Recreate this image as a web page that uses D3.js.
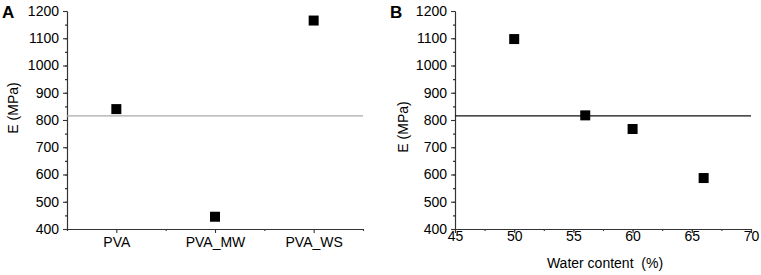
<html>
<head>
<style>
    body { margin: 0; background: #fff; }
    text { font-family: "Liberation Sans", Arial, sans-serif; fill: #000; }
</style>
</head>
<body>
<svg id="chart" width="761" height="275"></svg>
<script src="https://d3js.org/d3.v7.min.js"></script>
<script>
    // panel A data
    let samples = ["PVA", "PVA_MW", "PVA_WS"]
    let modulusA = [840, 445, 1165]
    // panel B data
    let waterContent = [50, 56, 60, 66]
    let modulusB = [1097, 817, 767, 587]
    // reference line (same in both panels)
    let refLine = 815
    let yTicks = [400, 500, 600, 700, 800, 900, 1000, 1100, 1200]
    let xTicksB = [45, 50, 55, 60, 65, 70]

    let svg = d3.select("#chart")
    let axisColor = "#333"

    function styleAxis(g) {
        g.attr("font-size", 14).attr("font-family", "Liberation Sans, Arial, sans-serif")
        g.selectAll("path, line").attr("stroke", axisColor).attr("stroke-width", 1.1)
        g.selectAll("text").attr("fill", "#000")
    }

    function drawY(left, letter, labelX, labelY) {
        let y = d3.scaleLinear().domain([400, 1200]).range([229, 11])
        // minor ticks every 50
        svg.append("g").attr("transform", `translate(${left},0)`)
            .call(d3.axisLeft(y).tickValues(d3.range(400, 1201, 50)).tickSize(2).tickFormat("").tickSizeOuter(0))
            .call(styleAxis)
        svg.append("g").attr("transform", `translate(${left},0)`)
            .call(d3.axisLeft(y).tickValues(yTicks).tickSize(4).tickPadding(4)
                .tickFormat(d3.format("d")).tickSizeOuter(0))
            .call(styleAxis)
        svg.append("text")
            .attr("transform", `translate(${labelX},${labelY}) rotate(-90)`)
            .attr("text-anchor", "middle")
            .attr("font-size", 14)
            .text("E (MPa)")
        svg.append("text")
            .attr("x", left - 65).attr("y", 18)
            .attr("font-size", 17).attr("font-weight", "bold")
            .text(letter)
        return y
    }

    // ---- Panel A ----
    let yA = drawY(67, "A", 18, 108)
    let xA = d3.scalePoint().domain(samples).range([67, 363]).padding(0.5)
    let xAminor = d3.scaleLinear().domain([-0.5, 2.5]).range([67, 363])
    svg.append("g").attr("transform", "translate(0,229)")
        .call(d3.axisBottom(xAminor).tickValues([-0.5, 0.5, 1.5, 2.5]).tickSize(2).tickFormat("").tickSizeOuter(0))
        .call(styleAxis)
    svg.append("g").attr("transform", "translate(0,229)")
        .call(d3.axisBottom(xA).tickSize(4).tickPadding(4).tickSizeOuter(0))
        .call(styleAxis)

    svg.append("line")
        .attr("x1", xAminor(-0.5)).attr("x2", xAminor(2.5))
        .attr("y1", yA(refLine)).attr("y2", yA(refLine))
        .attr("stroke", "#aaaaaa").attr("stroke-width", 1.3)

    svg.append("g").selectAll("rect")
        .data(samples)
        .join("rect")
        .attr("x", d => xA(d) - 5)
        .attr("y", (d, i) => yA(modulusA[i]) - 5)
        .attr("width", 10).attr("height", 10)
        .attr("fill", "#000")

    // ---- Panel B ----
    let yB = drawY(455, "B", 408, 127)
    let xB = d3.scaleLinear().domain([45, 70]).range([455, 751])
    svg.append("g").attr("transform", "translate(0,229)")
        .call(d3.axisBottom(xB).tickValues(d3.range(45, 70.1, 2.5)).tickSize(2).tickFormat("").tickSizeOuter(0))
        .call(styleAxis)
    svg.append("g").attr("transform", "translate(0,229)")
        .call(d3.axisBottom(xB).tickValues(xTicksB).tickSize(4).tickPadding(-2).tickSizeOuter(0))
        .call(styleAxis)
    svg.append("text")
        .attr("x", (xB(45) + xB(70)) / 2 + 2).attr("y", 268)
        .attr("text-anchor", "middle")
        .attr("font-size", 14)
        .attr("xml:space", "preserve")
        .text("Water content  (%)")

    svg.append("line")
        .attr("x1", xB(45)).attr("x2", xB(70))
        .attr("y1", yB(refLine)).attr("y2", yB(refLine))
        .attr("stroke", "#111").attr("stroke-width", 1.3)

    svg.append("g").selectAll("rect")
        .data(waterContent)
        .join("rect")
        .attr("x", d => xB(d) - 5)
        .attr("y", (d, i) => yB(modulusB[i]) - 5)
        .attr("width", 10).attr("height", 10)
        .attr("fill", "#000")
</script>
</body>
</html>
